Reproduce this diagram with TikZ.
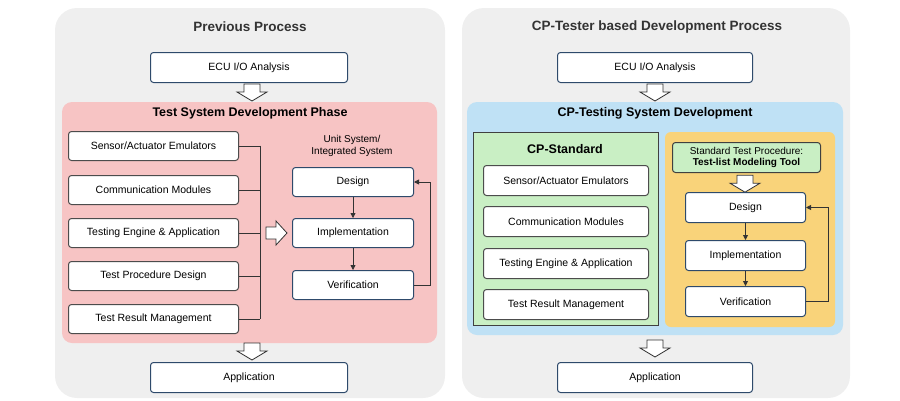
\documentclass[tikz,border=0pt]{standalone}
\usepackage{fontspec}
\setmainfont{Liberation Sans}
\usetikzlibrary{arrows.meta}
\definecolor{bgg}{HTML}{EFEFEF}
\definecolor{pinkf}{HTML}{F7C4C4}
\definecolor{bluef}{HTML}{BFE1F5}
\definecolor{greenf}{HTML}{C9EFC4}
\definecolor{orangef}{HTML}{F9D37A}
\definecolor{edge}{HTML}{2E4A6B}
\begin{document}
\begin{tikzpicture}[x=1pt,y=-1pt,
  panel/.style={fill=bgg,rounded corners=22},
  box/.style={draw=edge,line width=1pt,fill=white,rounded corners=3,inner sep=0pt,font=\fontsize{10.5}{12}\selectfont},
  gbox/.style={draw=black!70,line width=1pt,fill=white,rounded corners=3,inner sep=0pt,font=\fontsize{10.5}{12}\selectfont},
  ttl/.style={font=\bfseries\fontsize{13.5}{15}\selectfont,text=black!80},
  sub/.style={font=\bfseries\fontsize{12.5}{14}\selectfont},
  conn/.style={draw=black!80,line width=0.8pt},
  arr/.style={conn,-{Triangle[length=5pt,width=5pt]}},
  hollow/.pic={\draw[black!80,line width=0.8pt,fill=white] (-8,0)--(8,0)--(8,8)--(15,8)--(0,17)--(-15,8)--(-8,8)--cycle;},
  hollowr/.pic={\draw[black!80,line width=0.8pt,fill=white] (0,-6)--(10,-6)--(10,-12)--(21,0)--(10,12)--(10,6)--(0,6)--cycle;}]
\useasboundingbox (0,0) rectangle (900,400);
% ===== left panel
\fill[panel] (55,8) rectangle (445,398);
\node[ttl] (t1) at (250,27) {Previous Process};
\node[box,minimum width=197,minimum height=30,anchor=north west] (ecu1) at (150,52) {ECU I/O Analysis};
\pic at (252,84) {hollow};
\fill[pinkf,rounded corners=10] (62,102) rectangle (437,343);
\node[sub] (p1) at (250,113) {Test System Development Phase};
\foreach \n/\y/\t in {s1/131/{Sensor/Actuator Emulators},c1/175/Communication Modules,e1/218/Testing Engine \& Application,d1/261/Test Procedure Design,r1/304/Test Result Management}
  \node[gbox,minimum width=170,minimum height=29,anchor=north west] (\n) at (68,\y) {\t};
\coordinate (bt) at (260,145.5);
\coordinate (bb) at (260,318.5);
\draw[conn] (bt)--(bb);
\foreach \n in {s1,c1,e1,d1,r1} \draw[conn] (\n.east)--(\n.east-|bt);
\pic at (266,233) {hollowr};
\node[font=\fontsize{10}{11.5}\selectfont,align=center] (us) at (352,146) {Unit System/\\Integrated System};
\node[box,minimum width=121,minimum height=29,anchor=north west] (de1) at (292,167) {Design};
\node[box,minimum width=121,minimum height=29,anchor=north west] (im1) at (292,218) {Implementation};
\node[box,minimum width=121,minimum height=29,anchor=north west] (ve1) at (292,270) {Verification};
\draw[arr] (de1)--(im1);
\draw[arr] (im1)--(ve1);
\coordinate (fb1) at (430,0);
\draw[arr] (ve1.east)--(ve1.east-|fb1)--(de1.east-|fb1)--(de1.east);
\pic at (252,343) {hollow};
\node[box,minimum width=197,minimum height=30,anchor=north west] (app1) at (150,362) {Application};
% ===== right panel
\fill[panel] (462,8) rectangle (850,398);
\node[ttl] (t2) at (657,27) {CP-Tester based Development Process};
\node[box,minimum width=195,minimum height=30,anchor=north west] (ecu2) at (557,52) {ECU I/O Analysis};
\pic at (655,84) {hollow};
\fill[bluef,rounded corners=10] (467,102) rectangle (843,335);
\node[sub] (p2) at (655,113) {CP-Testing System Development};
\draw[fill=greenf,draw=black!75,line width=1pt] (473,132) rectangle (658,325);
\node[sub] (cps) at (565,149) {CP-Standard};
\foreach \n/\y/\t in {s2/165/{Sensor/Actuator Emulators},c2/206/Communication Modules,e2/248/Testing Engine \& Application,r2/289/Test Result Management}
  \node[gbox,minimum width=165,minimum height=30,anchor=north west] (\n) at (483,\y) {\t};
\fill[orangef,rounded corners=6] (665,132) rectangle (835,327);
\node[draw=black!75,line width=1pt,fill=greenf,rounded corners=3,minimum width=148,minimum height=30,anchor=north west,align=center,inner sep=0pt,font=\fontsize{10}{11.5}\selectfont] (stp) at (672,142) {Standard Test Procedure:\\\textbf{Test-list Modeling Tool}};
\begin{scope}[yscale=0.8]\pic at (745,219) {hollow};\end{scope}
\node[box,minimum width=120,minimum height=30,anchor=north west] (de2) at (685,192) {Design};
\node[box,minimum width=120,minimum height=30,anchor=north west] (im2) at (685,240) {Implementation};
\node[box,minimum width=120,minimum height=30,anchor=north west] (ve2) at (685,286) {Verification};
\draw[arr] (de2)--(im2);
\draw[arr] (im2)--(ve2);
\coordinate (fb2) at (828,0);
\draw[arr] (ve2.east)--(ve2.east-|fb2)--(de2.east-|fb2)--(de2.east);
\pic at (655,340) {hollow};
\node[box,minimum width=195,minimum height=30,anchor=north west] (app2) at (557,362) {Application};
\end{tikzpicture}
\end{document}
